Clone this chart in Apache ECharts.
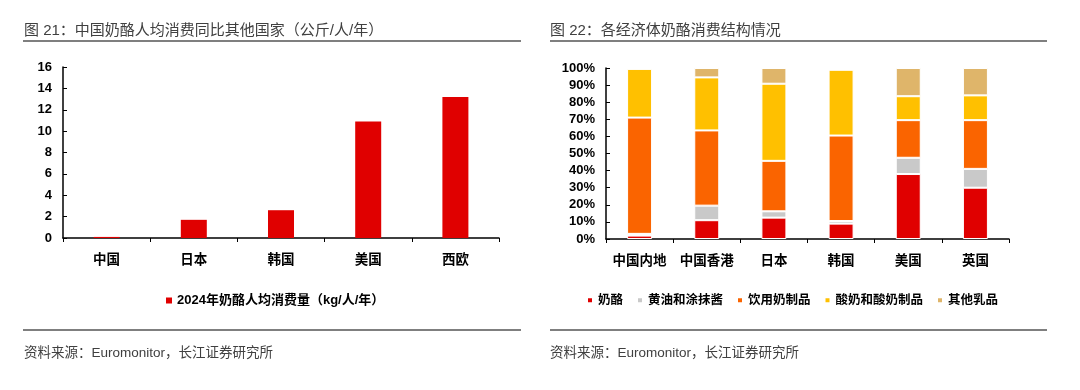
<!DOCTYPE html>
<html>
<head>
<meta charset="utf-8">
<script src="https://cdn.jsdelivr.net/npm/echarts@6/dist/echarts.min.js"></script>
<style>
html,body{margin:0;padding:0;background:#fff;}
#chart{width:1080px;height:390px;}
</style>
</head>
<body>
<div id="chart"></div>
<script>
// ---- Data ----
const leftCategories = ['中国', '日本', '韩国', '美国', '西欧'];
const leftSeriesName = '2024年奶酪人均消费量（kg/人/年）';
const leftValues = [0.1, 1.7, 2.6, 10.9, 13.2];

const rightCategories = ['中国内地', '中国香港', '日本', '韩国', '美国', '英国'];
const cheese = [2, 11, 12.5, 9, 38, 30];
const butter = [1, 8.5, 3.7, 1.5, 9.5, 11];
const drinkMilk = [68, 44, 29.5, 50, 22, 28.5];
const yogurt = [28.5, 31, 45.1, 38.5, 14, 14.5];
const otherDairy = [0, 5.5, 9.2, 0, 16.5, 16];
const rightSeriesNames = ['奶酪', '黄油和涂抹酱', '饮用奶制品', '酸奶和酸奶制品', '其他乳品'];
const rightSeriesData = [cheese, butter, drinkMilk, yogurt, otherDairy];
const rightColors = ['#e00000', '#c9c9c9', '#fa6400', '#ffc000', '#dfb56a'];

const leftTitle = '图 21：中国奶酪人均消费同比其他国家（公斤/人/年）';
const rightTitle = '图 22：各经济体奶酪消费结构情况';
const sourceText = '资料来源：Euromonitor，长江证券研究所';

// ---- Chart ----
const FONT = '"Liberation Sans", Arial, "Noto Sans CJK SC", sans-serif';
const chart = echarts.init(document.getElementById('chart'), null, {renderer: 'canvas'});

const axisLabelBold = {color: '#000', fontWeight: 'bold', fontSize: 13, fontFamily: FONT};

const option = {
  backgroundColor: '#fff',
  animation: false,
  title: [
    {text: leftTitle, left: 19, top: 18, textStyle: {fontSize: 15, fontWeight: 'normal', color: '#404040', fontFamily: FONT}},
    {text: rightTitle, left: 545, top: 18, textStyle: {fontSize: 15, fontWeight: 'normal', color: '#404040', fontFamily: FONT}},
    {text: sourceText, left: 19, top: 342, textStyle: {fontSize: 13.5, fontWeight: 'normal', color: '#404040', fontFamily: FONT}},
    {text: sourceText, left: 545, top: 342, textStyle: {fontSize: 13.5, fontWeight: 'normal', color: '#404040', fontFamily: FONT}}
  ],
  graphic: [
    {type: 'line', shape: {x1: 23, y1: 41, x2: 521, y2: 41}, style: {stroke: '#7f7f7f', lineWidth: 2}},
    {type: 'line', shape: {x1: 550, y1: 41, x2: 1047, y2: 41}, style: {stroke: '#7f7f7f', lineWidth: 2}},
    {type: 'line', shape: {x1: 23, y1: 330, x2: 521, y2: 330}, style: {stroke: '#7f7f7f', lineWidth: 2}},
    {type: 'line', shape: {x1: 550, y1: 330, x2: 1047, y2: 330}, style: {stroke: '#7f7f7f', lineWidth: 2}}
  ],
  legend: [
    {
      data: [leftSeriesName],
      left: 161, top: 289,
      icon: 'rect', itemWidth: 6, itemHeight: 6, itemGap: 14,
      textStyle: {color: '#000', fontWeight: 'bold', fontSize: 13, fontFamily: FONT}
    },
    {
      data: rightSeriesNames,
      left: 581, top: 289,
      icon: 'rect', itemWidth: 6, itemHeight: 6, itemGap: 13,
      textStyle: {color: '#000', fontWeight: 'bold', fontSize: 12.5, fontFamily: FONT}
    }
  ],
  grid: [
    {left: 63, right: 581, top: 67, bottom: 152, containLabel: false},
    {left: 606, right: 71, top: 68, bottom: 151, containLabel: false}
  ],
  xAxis: [
    {
      type: 'category', gridIndex: 0, data: leftCategories,
      axisLine: {lineStyle: {color: '#000', width: 1.5}},
      axisTick: {show: true, alignWithLabel: false, length: 4, lineStyle: {color: '#000'}},
      axisLabel: Object.assign({}, axisLabelBold, {fontSize: 13.5, margin: 16, interval: 0})
    },
    {
      type: 'category', gridIndex: 1, data: rightCategories,
      axisLine: {lineStyle: {color: '#000', width: 1.5}},
      axisTick: {show: true, alignWithLabel: false, length: 4, lineStyle: {color: '#000'}},
      axisLabel: Object.assign({}, axisLabelBold, {fontSize: 13.5, margin: 16, interval: 0})
    }
  ],
  yAxis: [
    {
      type: 'value', gridIndex: 0, min: 0, max: 16, interval: 2,
      splitLine: {show: false},
      axisLine: {show: true, lineStyle: {color: '#000', width: 1.5}},
      axisTick: {show: true, inside: true, length: 4, lineStyle: {color: '#000'}},
      axisLabel: Object.assign({}, axisLabelBold, {margin: 11})
    },
    {
      type: 'value', gridIndex: 1, min: 0, max: 100, interval: 10,
      splitLine: {show: false},
      axisLine: {show: true, lineStyle: {color: '#000', width: 1.5}},
      axisTick: {show: true, inside: true, length: 4, lineStyle: {color: '#000'}},
      axisLabel: Object.assign({}, axisLabelBold, {margin: 11, formatter: '{value}%'})
    }
  ],
  series: [
    {
      name: leftSeriesName, type: 'bar', xAxisIndex: 0, yAxisIndex: 0,
      data: leftValues, barWidth: 26,
      itemStyle: {color: '#e00000'}
    }
  ].concat(rightSeriesNames.map((name, i) => ({
    name: name, type: 'bar', stack: 'structure', xAxisIndex: 1, yAxisIndex: 1,
    data: rightSeriesData[i], barWidth: 25,
    itemStyle: {color: rightColors[i], borderColor: '#fff', borderWidth: 1}
  })))
};

chart.setOption(option);
</script>
</body>
</html>
